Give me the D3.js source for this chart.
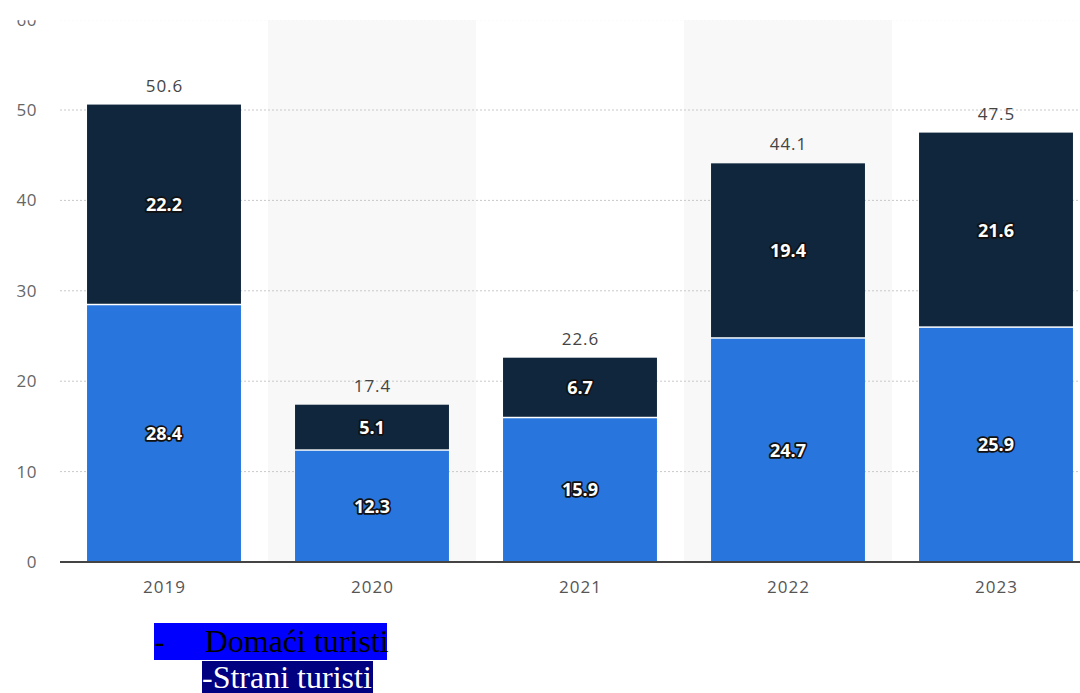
<html>
<head>
  <meta charset="utf-8">
  <style>
    body { margin: 0; background: #fff; width: 1080px; height: 693px; overflow: hidden; position: relative; }
    #container { position: absolute; left: 0; top: 0; }
    .grid line { stroke: #c8c8c8; stroke-dasharray: 2 2; }
    .legend { position: absolute; font-family: "Liberation Serif", "Times New Roman", serif; font-size: 32px; white-space: pre; }
    #leg1 { left: 154px; top: 623px; width: 233px; height: 37px; line-height: 37px; background: #0000ff; color: #000; }
    #leg1 .gap { display: inline-block; width: 40px; }
    #leg2 { left: 202px; top: 661px; height: 33px; line-height: 33px; background: #000080; color: #fff; padding-right: 1px; }
  </style>
</head>
<body>
  <svg id="container" width="1080" height="693">
    <defs>
      <clipPath id="clip"><rect x="0" y="20.2" width="1080" height="673"></rect></clipPath>
    </defs>
    <g id="body" clip-path="url(#clip)"></g>
  </svg>
  <div class="legend" id="leg1">-<span class="gap"></span>Domaći turisti</div>
  <div class="legend" id="leg2">-Strani turisti</div>
<script src="https://cdn.jsdelivr.net/npm/d3@7"></script>
<script>
  let years = ["2019", "2020", "2021", "2022", "2023"]
  let domestic = [28.4, 12.3, 15.9, 24.7, 25.9]
  let foreign = [22.2, 5.1, 6.7, 19.4, 21.6]
  let totals = [50.6, 17.4, 22.6, 44.1, 47.5]
  let yTicks = [0, 10, 20, 30, 40, 50, 60]

  let body = d3.select("#body")

  // chart area
  let chartLeft = 60, chartRight = 1100, chartTop = 19.6, chartBottom = 562

  let x = d3.scaleBand().domain(years).range([chartLeft, chartRight]).paddingInner(0.26).paddingOuter(0.13)
  let band = d3.scaleBand().domain(years).range([chartLeft, chartRight])
  let y = d3.scaleLinear().domain([0, 60]).range([chartBottom, chartTop])

  // shaded background for every second year
  body.append("g")
      .selectAll("rect")
      .data(years.filter((d, i) => i % 2 == 1))
      .enter()
      .append("rect")
        .attr("x", d => band(d))
        .attr("width", band.bandwidth())
        .attr("y", y(60))
        .attr("height", y(0) - y(60))
        .attr("fill", "#f8f8f8")

  // gridlines
  body.append("g")
      .attr("class", "grid")
      .selectAll("line")
      .data(yTicks.filter(d => d > 0))
      .enter()
      .append("line")
        .attr("x1", chartLeft)
        .attr("x2", 1080)
        .attr("y1", d => y(d))
        .attr("y2", d => y(d))

  // y labels
  body.append("g")
      .selectAll("text")
      .data(yTicks)
      .enter()
      .append("text")
        .attr("x", 37)
        .attr("y", d => y(d))
        .attr("dy", "0.35em")
        .attr("text-anchor", "end")
        .attr("font-family", "Open Sans")
        .attr("font-size", 17)
        .attr("letter-spacing", 0.5)
        .attr("fill", "#666")
        .text(d => d)

  let rows = years.map((d, i) => ({ year: d, dom: domestic[i], fr: foreign[i], total: totals[i] }))

  // domestic (bottom) and foreign (top) segments
  let bars = body.append("g")
  bars.selectAll(".dom")
      .data(rows)
      .enter()
      .append("rect")
        .attr("x", d => x(d.year))
        .attr("width", x.bandwidth())
        .attr("y", d => y(d.dom))
        .attr("height", d => y(0) - y(d.dom))
        .attr("fill", "#2876dd")
  bars.selectAll(".fr")
      .data(rows)
      .enter()
      .append("rect")
        .attr("x", d => x(d.year))
        .attr("width", x.bandwidth())
        .attr("y", d => y(d.dom + d.fr))
        .attr("height", d => y(d.dom) - y(d.dom + d.fr) - 1.5)
        .attr("fill", "#10263d")

  // segment labels
  let segLabels = []
  rows.forEach(d => {
    segLabels.push({ year: d.year, v: d.dom, mid: d.dom / 2 })
    segLabels.push({ year: d.year, v: d.fr, mid: d.dom + d.fr / 2 })
  })
  body.append("g")
      .selectAll("text")
      .data(segLabels)
      .enter()
      .append("text")
        .attr("x", d => x(d.year) + x.bandwidth() / 2)
        .attr("y", d => y(d.mid))
        .attr("dy", "0.35em")
        .attr("text-anchor", "middle")
        .attr("font-family", "Open Sans")
        .attr("font-weight", "bold")
        .attr("font-size", 18)
        .attr("fill", "#fff")
        .attr("stroke", "#111")
        .attr("stroke-width", 3.5)
        .attr("stroke-linejoin", "round")
        .attr("paint-order", "stroke")
        .text(d => d.v.toFixed(1))

  // totals above bars
  body.append("g")
      .selectAll("text")
      .data(rows)
      .enter()
      .append("text")
        .attr("x", d => x(d.year) + x.bandwidth() / 2 + 0.5)
        .attr("y", d => y(d.total) - 19)
        .attr("dy", "0.35em")
        .attr("text-anchor", "middle")
        .attr("font-family", "Open Sans")
        .attr("font-size", 17)
        .attr("letter-spacing", 1)
        .attr("fill", "#444")
        .text(d => d.total.toFixed(1))

  // baseline
  body.append("line")
      .attr("x1", chartLeft)
      .attr("x2", 1080)
      .attr("y1", y(0))
      .attr("y2", y(0))
      .attr("stroke", "#444")
      .attr("stroke-width", 2)

  // x labels
  body.append("g")
      .selectAll("text")
      .data(years)
      .enter()
      .append("text")
        .attr("x", d => band(d) + band.bandwidth() / 2 + 0.5)
        .attr("y", 587)
        .attr("dy", "0.35em")
        .attr("text-anchor", "middle")
        .attr("font-family", "Open Sans")
        .attr("font-size", 17)
        .attr("letter-spacing", 1)
        .attr("fill", "#555")
        .text(d => d)
</script>
</body>
</html>
